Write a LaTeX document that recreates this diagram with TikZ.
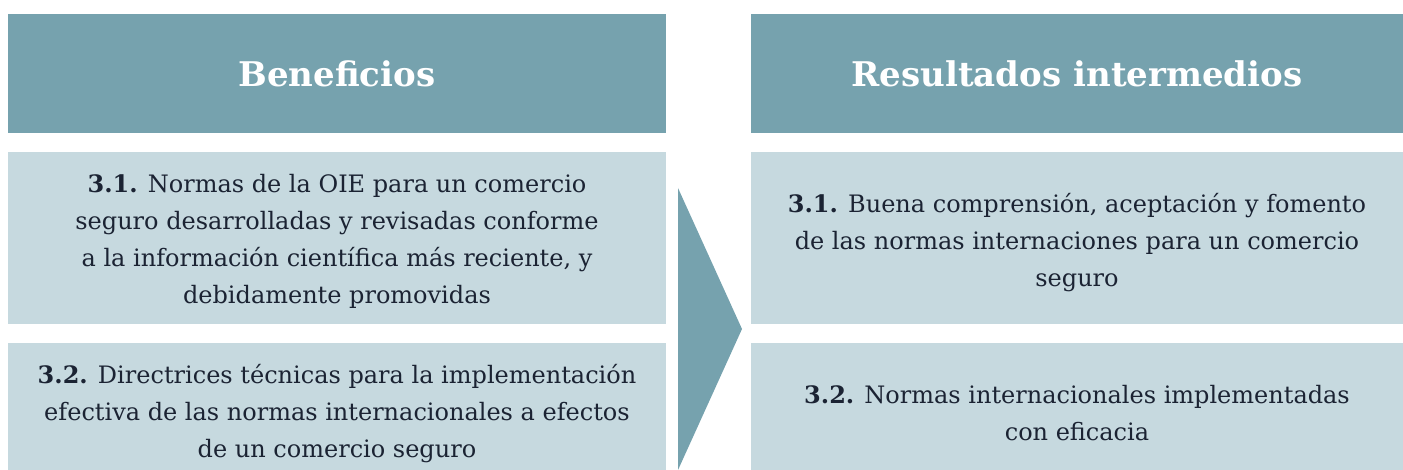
\documentclass[tikz,border=0pt]{standalone}
\usepackage{fontspec}
\setmainfont{DejaVu Serif}
\definecolor{headc}{HTML}{76A2AE}
\definecolor{boxc}{HTML}{C6D9DF}
\definecolor{txtc}{HTML}{1B2333}
\begin{document}
\begin{tikzpicture}[x=1pt,y=-1pt,
  head/.style={fill=headc,text=white,inner sep=0pt,minimum width=#1,minimum height=119pt,font=\fontsize{34}{40}\selectfont\bfseries},
  item/.style={fill=boxc,inner sep=0pt,minimum width=#1},
  itemtext/.style={text=txtc,inner sep=0pt,align=center,font=\fontsize{24}{37}\selectfont},
]
\useasboundingbox (0,0) rectangle (1403,470);
\clip (0,0) rectangle (1403,470);
\node[head=658pt] (h1) at (337,74) {Beneficios};
\node[head=652pt] (h2) at (1077,74) {Resultados intermedios};
\node[item=658pt,minimum height=172pt] (l1) at (337,238) {};
\node[item=658pt,minimum height=140pt] (l2) at (337,413) {};
\node[item=652pt,minimum height=172pt] (r1) at (1077,238) {};
\node[item=652pt,minimum height=140pt] (r2) at (1077,413) {};
\node[itemtext] (l1t) at ([yshift=-3pt]l1.center) {\textbf{3.1.} Normas de la OIE para un comercio\\seguro desarrolladas y revisadas conforme\\a la información científica más reciente, y\\debidamente promovidas};
\node[itemtext] (l2t) at ([yshift=-1pt]l2.center) {\textbf{3.2.} Directrices técnicas para la implementación\\efectiva de las normas internacionales a efectos\\de un comercio seguro};
\node[itemtext] (r1t) at ([yshift=-5pt]r1.center) {\textbf{3.1.} Buena comprensión, aceptación y fomento\\de las normas internaciones para un comercio\\seguro};
\node[itemtext] (r2t) at (r2.center) {\textbf{3.2.} Normas internacionales implementadas\\con eficacia};
\fill[headc] (678,188) -- (742,329) -- (678,470) -- cycle;
\end{tikzpicture}
\end{document}
